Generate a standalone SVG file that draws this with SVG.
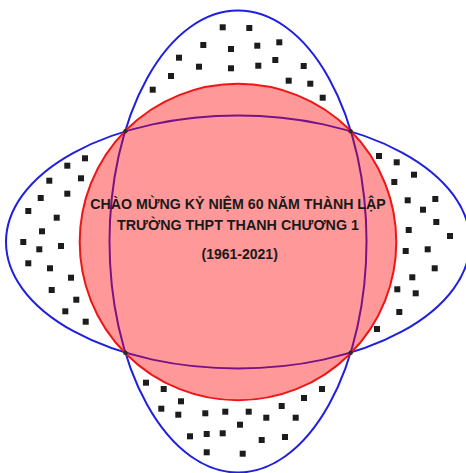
<svg xmlns="http://www.w3.org/2000/svg" xmlns:xlink="http://www.w3.org/1999/xlink" width="466" height="473" viewBox="0 0 466 473">
<defs>
<style>
.lobe{fill:none;stroke:#1f1fe0;stroke-width:2}
.disc{fill:#ff0000;fill-opacity:0.4;stroke:#f01515;stroke-width:2}
.pt{fill:#2a2a2a}
.t{font-family:"Liberation Sans",Arial,sans-serif;font-weight:bold;fill:#1a1a1a;text-anchor:middle}
</style>
<rect id="d" x="-3" y="-3" width="6" height="6" fill="#1c1c1c"/>
</defs>
<rect width="466" height="473" fill="#ffffff"/>
<g id="dots-top">
<use xlink:href="#d" x="222.7" y="27.3"/><use xlink:href="#d" x="249.3" y="28"/><use xlink:href="#d" x="203.3" y="45"/><use xlink:href="#d" x="231" y="49"/><use xlink:href="#d" x="257.3" y="45.7"/><use xlink:href="#d" x="279.3" y="42.3"/><use xlink:href="#d" x="179" y="57.7"/><use xlink:href="#d" x="199" y="66.7"/><use xlink:href="#d" x="231" y="68.3"/><use xlink:href="#d" x="258.3" y="65.7"/><use xlink:href="#d" x="275.3" y="60"/><use xlink:href="#d" x="303.7" y="66"/><use xlink:href="#d" x="171" y="76"/><use xlink:href="#d" x="288.7" y="80.7"/><use xlink:href="#d" x="310.3" y="83.7"/><use xlink:href="#d" x="152.7" y="89.7"/><use xlink:href="#d" x="322.7" y="97.7"/>
</g>
<g id="dots-left">
<use xlink:href="#d" x="85" y="158.3"/><use xlink:href="#d" x="67.3" y="165.7"/><use xlink:href="#d" x="49.3" y="180.7"/><use xlink:href="#d" x="81" y="178.3"/><use xlink:href="#d" x="40.7" y="198"/><use xlink:href="#d" x="67.3" y="193.7"/><use xlink:href="#d" x="28.3" y="211"/><use xlink:href="#d" x="56.7" y="217.7"/><use xlink:href="#d" x="42" y="231.3"/><use xlink:href="#d" x="23.3" y="242"/><use xlink:href="#d" x="39.3" y="249.3"/><use xlink:href="#d" x="61" y="246"/><use xlink:href="#d" x="28.3" y="263.3"/><use xlink:href="#d" x="50" y="268.3"/><use xlink:href="#d" x="71" y="277.7"/><use xlink:href="#d" x="51.7" y="290"/><use xlink:href="#d" x="76.3" y="299.7"/><use xlink:href="#d" x="65.3" y="311.3"/><use xlink:href="#d" x="85.7" y="321.7"/>
</g>
<g id="dots-right">
<use xlink:href="#d" x="379" y="156"/><use xlink:href="#d" x="396.7" y="162.3"/><use xlink:href="#d" x="414" y="174.7"/><use xlink:href="#d" x="394.3" y="182"/><use xlink:href="#d" x="407.7" y="200.3"/><use xlink:href="#d" x="435.3" y="199"/><use xlink:href="#d" x="423" y="209.7"/><use xlink:href="#d" x="436.3" y="222"/><use xlink:href="#d" x="408.7" y="230"/><use xlink:href="#d" x="450" y="236"/><use xlink:href="#d" x="405.7" y="251"/><use xlink:href="#d" x="427.7" y="249.3"/><use xlink:href="#d" x="434.7" y="268.3"/><use xlink:href="#d" x="412.3" y="277.3"/><use xlink:href="#d" x="397.3" y="289.3"/><use xlink:href="#d" x="415.7" y="293.3"/><use xlink:href="#d" x="399.3" y="312"/><use xlink:href="#d" x="377" y="329"/>
</g>
<g id="dots-bottom">
<use xlink:href="#d" x="146" y="382.7"/><use xlink:href="#d" x="163.7" y="389"/><use xlink:href="#d" x="181" y="401.3"/><use xlink:href="#d" x="161.3" y="408.7"/><use xlink:href="#d" x="178.3" y="414.7"/><use xlink:href="#d" x="205.3" y="413.3"/><use xlink:href="#d" x="225.3" y="411.7"/><use xlink:href="#d" x="248.7" y="411.7"/><use xlink:href="#d" x="266.3" y="417.7"/><use xlink:href="#d" x="281.7" y="406"/><use xlink:href="#d" x="304" y="398"/><use xlink:href="#d" x="322" y="389"/><use xlink:href="#d" x="295.7" y="417.7"/><use xlink:href="#d" x="240" y="424.7"/><use xlink:href="#d" x="190" y="436.3"/><use xlink:href="#d" x="206.7" y="434"/><use xlink:href="#d" x="222.7" y="433.3"/><use xlink:href="#d" x="261.7" y="440"/><use xlink:href="#d" x="285" y="437"/><use xlink:href="#d" x="206.7" y="452.3"/><use xlink:href="#d" x="242.7" y="453.7"/>
</g>
<g id="ellipses">
<ellipse id="vertical" class="lobe" cx="238" cy="241.5" rx="128.5" ry="231"/>
<ellipse id="horizontal" class="lobe" cx="238" cy="242" rx="232" ry="126.5"/>
</g>
<g id="circle">
<circle class="disc" cx="238" cy="242" r="158.3"/>
</g>
<g id="points">
<circle class="pt" cx="125.3" cy="131.3" r="2.2"/>
<circle class="pt" cx="350.7" cy="131.3" r="2.2"/>
<circle class="pt" cx="125.3" cy="352.7" r="2.2"/>
<circle class="pt" cx="350.7" cy="352.7" r="2.2"/>
</g>
<g id="title">
<text class="t" x="238" y="208.5" font-size="14.3" textLength="295.5" lengthAdjust="spacingAndGlyphs">CHÀO MỪNG KỶ NIỆM 60 NĂM THÀNH LẬP</text>
<text class="t" x="238" y="230" font-size="14.3" textLength="242" lengthAdjust="spacingAndGlyphs">TRƯỜNG THPT THANH CHƯƠNG 1</text>
<text class="t" x="239.7" y="258.5" font-size="14">(1961-2021)</text>
</g>
</svg>
